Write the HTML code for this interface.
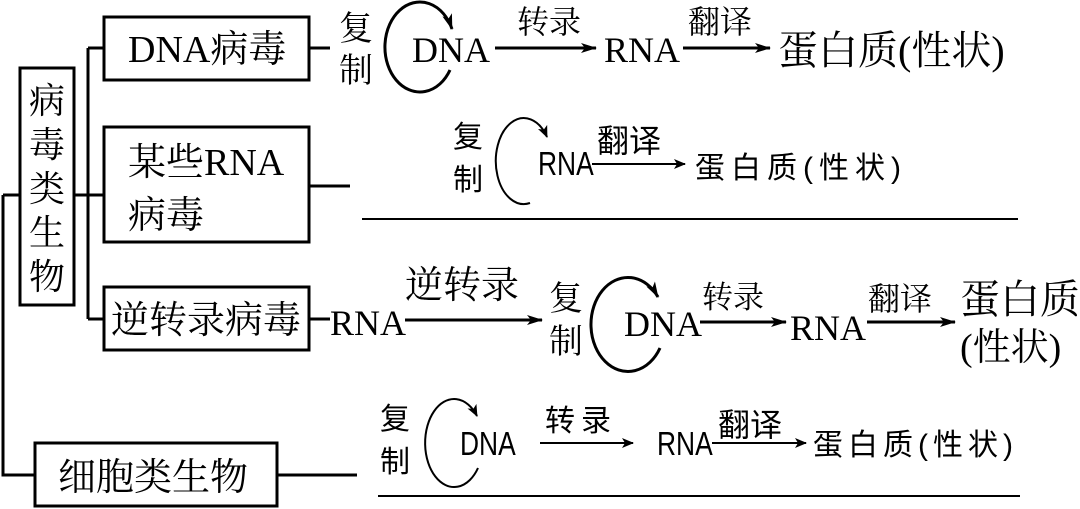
<!DOCTYPE html>
<html><head><meta charset="utf-8"><style>
html,body{margin:0;padding:0;background:#fff;}
svg{display:block;}
.s{font-family:"Liberation Serif","Noto Serif CJK SC",serif;}
.c{font-family:"Liberation Sans","Noto Sans CJK SC",sans-serif;}
</style></head><body>
<svg width="1080" height="509" viewBox="0 0 1080 509" xmlns="http://www.w3.org/2000/svg">
<defs>
<marker id="a" viewBox="0 0 12 10" refX="11" refY="5" markerWidth="12" markerHeight="10" markerUnits="userSpaceOnUse" orient="auto"><path d="M0,0 L12,5 L0,10 L3,5 Z" fill="#000"/></marker>
<marker id="b" viewBox="0 0 16 10" refX="15" refY="5" markerWidth="16" markerHeight="10" markerUnits="userSpaceOnUse" orient="auto"><path d="M0,0 L16,5 L0,10 L4,5 Z" fill="#000"/></marker>
</defs>
<g fill="none" stroke="#000" stroke-width="3">
<rect x="104" y="17" width="205" height="63"/>
<rect x="104" y="127" width="205" height="115"/>
<rect x="104" y="287" width="205" height="63"/>
<rect x="35" y="443" width="242" height="63"/>
<rect x="20" y="68" width="54" height="237"/>
<path d="M74,195 H104 M88,48 V319 M88,48 H104 M88,319 H104 M3,195 H20 M3,195 V475 H35"/>
<path d="M309,48 H330 M309,186 H350 M309,319 H330 M277,475 H357"/>
</g>
<g stroke="#000" stroke-width="2">
<line x1="362" y1="219" x2="1018" y2="219"/>
<line x1="378" y1="496" x2="1020" y2="496"/>
</g>
<g fill="none" stroke="#000" stroke-width="3">
<line x1="495" y1="48" x2="596" y2="48" marker-end="url(#b)"/>
<line x1="683" y1="48" x2="770" y2="48" marker-end="url(#b)"/>
<line x1="405" y1="320" x2="542" y2="320" marker-end="url(#b)"/>
<line x1="700" y1="322" x2="786" y2="322" marker-end="url(#b)"/>
<line x1="867" y1="322" x2="955" y2="322" marker-end="url(#b)"/>
<path d="M450,70 A35,45 0 1 1 452,29" marker-end="url(#b)"/>
<path d="M660,348 A37,47 0 1 1 658,297" marker-end="url(#b)"/>
</g>
<g fill="none" stroke="#000" stroke-width="2">
<line x1="592" y1="164" x2="685" y2="164" marker-end="url(#a)"/>
<line x1="540" y1="443" x2="633" y2="443" marker-end="url(#a)"/>
<line x1="712" y1="443" x2="806" y2="443" marker-end="url(#a)"/>
<path d="M530,203 A28,43 0 1 1 547,137" marker-end="url(#a)"/>
<path d="M478,468 A29,44 0 1 1 477,416" marker-end="url(#a)"/>
</g>
<g class="s" fill="#000">
<text x="128" y="62" font-size="38">DNA病毒</text>
<text x="128" y="175" font-size="38">某些RNA</text>
<text x="128" y="228" font-size="38">病毒</text>
<text x="111" y="333" font-size="38">逆转录病毒</text>
<text x="58" y="490" font-size="38">细胞类生物</text>
<text x="29" y="113" font-size="36">病</text>
<text x="29" y="157" font-size="36">毒</text>
<text x="29" y="201" font-size="36">类</text>
<text x="29" y="245" font-size="36">生</text>
<text x="29" y="289" font-size="36">物</text>
</g>
<g class="s" fill="#000">
<text x="339" y="40" font-size="34">复</text>
<text x="339" y="82" font-size="34">制</text>
<text x="412" y="62" font-size="36">DNA</text>
<text x="517" y="33" font-size="32">转录</text>
<text x="604" y="62" font-size="36">RNA</text>
<text x="688" y="33" font-size="32">翻译</text>
<text x="778" y="64" font-size="40">蛋白质(性状)</text>
</g>
<g class="c" fill="#000">
<text x="453" y="147" font-size="30">复</text>
<text x="453" y="190" font-size="30">制</text>
<text x="538" y="175" font-size="33" transform="translate(538,0) scale(0.8,1) translate(-538,0)">RNA</text>
<text x="597" y="152" font-size="32">翻译</text>
<text x="695" y="178" font-size="30" letter-spacing="6">蛋白质(性状)</text>
</g>
<g class="s" fill="#000">
<text x="330" y="335" font-size="36">RNA</text>
<text x="405" y="298" font-size="38">逆转录</text>
<text x="549" y="310" font-size="34">复</text>
<text x="549" y="353" font-size="34">制</text>
<text x="624" y="336" font-size="36">DNA</text>
<text x="702" y="308" font-size="31">转录</text>
<text x="868" y="310" font-size="32">翻译</text>
<text x="790" y="340" font-size="36">RNA</text>
<text x="960" y="313" font-size="40">蛋白质</text>
<text x="960" y="360" font-size="38">(性状)</text>
</g>
<g class="c" fill="#000">
<text x="380" y="429" font-size="30">复</text>
<text x="380" y="472" font-size="30">制</text>
<text x="460" y="455" font-size="33" transform="translate(460,0) scale(0.8,1) translate(-460,0)">DNA</text>
<text x="545" y="431" font-size="30" letter-spacing="6">转录</text>
<text x="657" y="455" font-size="33" transform="translate(657,0) scale(0.8,1) translate(-657,0)">RNA</text>
<text x="718" y="436" font-size="32">翻译</text>
<text x="813" y="455" font-size="30" letter-spacing="5">蛋白质(性状)</text>
</g>
</svg>
</body></html>
